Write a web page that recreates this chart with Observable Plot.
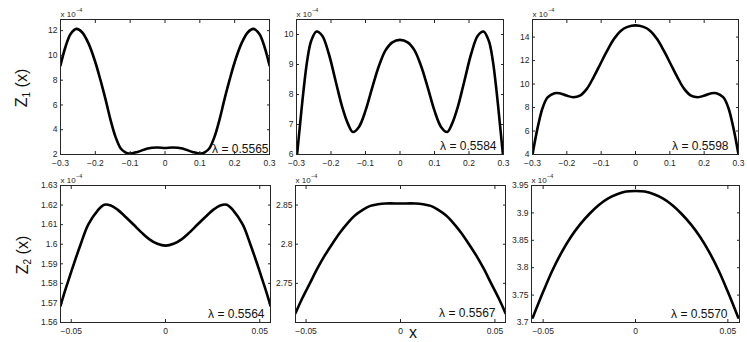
<!DOCTYPE html>
<html><head><meta charset="utf-8">
<script src="https://cdn.jsdelivr.net/npm/d3@7"></script>
<script src="https://cdn.jsdelivr.net/npm/@observablehq/plot@0.6"></script>
<style>
body{margin:0;background:#fff;}
#chart{position:relative;width:747px;height:342px;overflow:hidden;font-family:"Liberation Sans",Arial,sans-serif;color:#111;}
#chart svg{position:absolute;}
.lab{position:absolute;white-space:nowrap;transform:translate(-50%,-50%);}
.ylab{font-size:16px;transform:translate(-50%,-50%) rotate(-90deg);}
.ylab sub{font-size:10px;vertical-align:-3px;}
</style></head><body><div id="chart"></div>
<script>
// ---- data (values in units of 1e-4) ----
const p1X = [-0.3,-0.286,-0.271,-0.254,-0.238,-0.219,-0.2,-0.185,-0.17,-0.156,-0.142,-0.127,-0.115,-0.103,-0.079,-0.05,-0.022,0,0.022,0.05,0.079,0.103,0.115,0.127,0.142,0.156,0.17,0.185,0.2,0.219,0.238,0.254,0.271,0.286,0.3];
const p1Y = [9.2,10.66,11.73,12.14,11.87,10.93,9.45,7.98,6.37,4.76,3.42,2.48,2.2,2.08,2.21,2.48,2.56,2.52,2.56,2.48,2.21,2.08,2.2,2.48,3.42,4.76,6.37,7.98,9.45,10.93,11.87,12.14,11.73,10.66,9.2];

const p2X = [-0.3,-0.2904,-0.2807,-0.269,-0.2573,-0.242,-0.2254,-0.2062,-0.1868,-0.1674,-0.151,-0.1365,-0.119,-0.0997,-0.0803,-0.0611,-0.0417,-0.0222,0,0.0222,0.0417,0.0611,0.0803,0.0997,0.119,0.1365,0.151,0.1674,0.1868,0.2062,0.2254,0.242,0.2573,0.269,0.2807,0.2904,0.3];
const p2Y = [5.8,6.92,8.02,9.13,9.79,10.1,9.96,9.35,8.46,7.58,7.03,6.75,6.92,7.47,8.24,8.95,9.48,9.74,9.82,9.74,9.48,8.95,8.24,7.47,6.92,6.75,7.03,7.58,8.46,9.35,9.96,10.1,9.79,9.13,8.02,6.92,5.8];

const p3X = [-0.3,-0.2847,-0.2699,-0.2553,-0.2358,-0.221,-0.201,-0.1815,-0.1617,-0.1418,-0.1222,-0.1024,-0.0825,-0.0629,-0.0431,-0.0232,0,0.0232,0.0431,0.0629,0.0825,0.1024,0.1222,0.1418,0.1617,0.1815,0.201,0.221,0.2358,0.2553,0.2699,0.2847,0.3];
const p3Y = [4.0,6.33,8.03,8.88,9.22,9.22,9.02,8.88,9.02,9.59,10.58,11.71,12.84,13.83,14.53,14.87,15.0,14.87,14.53,13.83,12.84,11.71,10.58,9.59,9.02,8.88,9.02,9.22,9.22,8.88,8.03,6.33,4.0];

const p4X = [-0.0557,-0.054,-0.052,-0.0486,-0.045,-0.041,-0.036,-0.0325,-0.029,-0.0256,-0.021,-0.0167,-0.0125,-0.0085,-0.0043,0,0.0043,0.0085,0.0125,0.0167,0.021,0.0256,0.029,0.0325,0.036,0.041,0.045,0.0486,0.052,0.054,0.0557];
const p4Y = [1.5685,1.574,1.58,1.59,1.6,1.61,1.6172,1.6202,1.6198,1.6178,1.6138,1.6098,1.6058,1.6025,1.6002,1.5993,1.6002,1.6025,1.6058,1.6098,1.6138,1.6178,1.6198,1.6202,1.6172,1.61,1.6,1.59,1.58,1.574,1.5685];

const p5X = [-0.0556,-0.052,-0.048,-0.044,-0.04,-0.036,-0.032,-0.028,-0.024,-0.02,-0.016,-0.012,-0.008,0,0.008,0.012,0.016,0.02,0.024,0.028,0.032,0.036,0.04,0.044,0.048,0.052,0.0556];
const p5Y = [2.712,2.731,2.75,2.769,2.786,2.801,2.815,2.827,2.837,2.844,2.849,2.851,2.852,2.852,2.852,2.851,2.849,2.844,2.837,2.827,2.815,2.801,2.786,2.769,2.75,2.731,2.712];

const p6X = [-0.0556,-0.05,-0.045,-0.04,-0.035,-0.03,-0.025,-0.02,-0.015,-0.01,-0.005,0,0.005,0.01,0.015,0.02,0.025,0.03,0.035,0.04,0.045,0.05,0.0556];
const p6Y = [3.709,3.756,3.795,3.828,3.856,3.879,3.898,3.914,3.926,3.934,3.939,3.94,3.939,3.934,3.926,3.914,3.898,3.879,3.856,3.828,3.795,3.756,3.709];

const xTicksTop = [-0.3,-0.2,-0.1,0,0.1,0.2,0.3];
const xTicksBottom = [-0.05,0,0.05];
const p1YTicks = [2,4,6,8,10,12];
const p2YTicks = [6,7,8,9,10];
const p3YTicks = [4,6,8,10,12,14];
const p4YTicks = [1.56,1.57,1.58,1.59,1.6,1.61,1.62,1.63];
const p5YTicks = [2.75,2.8,2.85];
const p6YTicks = [3.7,3.75,3.8,3.85,3.9,3.95];
const lambdas = ["λ = 0.5565","λ = 0.5584","λ = 0.5598","λ = 0.5564","λ = 0.5567","λ = 0.5570"];
const scaleNote = "x 10", scaleExp = "−4";

// ---- layout ----
const panels = [
  {x:p1X,y:p1Y,xd:[-0.3,0.3],yd:[2,12.9],xt:xTicksTop,yt:p1YTicks,lab:lambdas[0],f:[60,269,19,154],ld:[-1,-2]},
  {x:p2X,y:p2Y,xd:[-0.3,0.3],yd:[6,10.5],xt:xTicksTop,yt:p2YTicks,lab:lambdas[1],f:[296,503,19,154],ld:[-7,-5]},
  {x:p3X,y:p3Y,xd:[-0.3,0.3],yd:[4,15.5],xt:xTicksTop,yt:p3YTicks,lab:lambdas[2],f:[532,738,19,154],ld:[-10,-5]},
  {x:p4X,y:p4Y,xd:[-0.0557,0.0557],yd:[1.56,1.63],xt:xTicksBottom,yt:p4YTicks,lab:lambdas[3],f:[60,270,185,322],ld:[-6,-5]},
  {x:p5X,y:p5Y,xd:[-0.0556,0.0556],yd:[2.7,2.875],xt:xTicksBottom,yt:p5YTicks,lab:lambdas[4],f:[295,505,185,322],ld:[-10,-6]},
  {x:p6X,y:p6Y,xd:[-0.0563,0.0563],yd:[3.7,3.95],xt:xTicksBottom,yt:p6YTicks,lab:lambdas[5],f:[531,739,185,322],ld:[-12,-5]}
];
const fmt = d => d === 0 ? "0" : String(+d.toFixed(4)).replace("-", "−");
const chart = document.getElementById("chart");
const ML = 45, MR = 12, MT = 20, MB = 20;

for (const p of panels) {
  const [L, R, T, B] = p.f;
  const data = p.x.map((v, i) => ({x: v, y: p.y[i]}));
  const svg = Plot.plot({
    width: ML + (R - L) + MR,
    height: MT + (B - T) + MB,
    marginLeft: ML, marginRight: MR, marginTop: MT, marginBottom: MB,
    x: {domain: p.xd},
    y: {domain: p.yd},
    style: {fontFamily: "'Liberation Sans', Arial, sans-serif", fontSize: "8.5px", color: "#262626", background: "transparent", overflow: "visible"},
    marks: [
      Plot.line(data, {x: "x", y: "y", stroke: "#000", strokeWidth: 2.6, curve: "catmull-rom", clip: true}),
      Plot.frame({stroke: "#262626", strokeWidth: 1}),
      Plot.axisX(p.xt, {anchor: "bottom", tickSize: -3, tickPadding: 8.5, tickFormat: fmt, label: null}),
      Plot.axisX(p.xt, {anchor: "top", tickSize: -3, tickFormat: () => "", label: null}),
      Plot.axisY(p.yt, {anchor: "left", tickSize: -3, tickPadding: 6, tickFormat: fmt, label: null}),
      Plot.axisY(p.yt, {anchor: "right", tickSize: -3, tickFormat: () => "", label: null}),
      Plot.text([p.lab], {text: d => d, frameAnchor: "bottom-right", textAnchor: "end", lineAnchor: "bottom", dx: p.ld[0], dy: p.ld[1], fontSize: 12, fill: "#111"}),
      Plot.text([scaleNote], {text: d => d, frameAnchor: "top-left", textAnchor: "start", lineAnchor: "bottom", dy: -3, fontSize: 8, fill: "#262626"}),
      Plot.text([scaleExp], {text: d => d, frameAnchor: "top-left", textAnchor: "start", lineAnchor: "bottom", dx: 15.5, dy: -7.5, fontSize: 5.5, fill: "#262626"})
    ]
  });
  svg.style.left = (L - ML) + "px";
  svg.style.top = (T - MT) + "px";
  chart.appendChild(svg);
}

function addLabel(html, cls, x, y) {
  const d = document.createElement("div");
  d.className = "lab " + cls;
  d.innerHTML = html;
  d.style.left = x + "px";
  d.style.top = y + "px";
  chart.appendChild(d);
}
addLabel("Z<sub>1</sub> (x)", "ylab", 22, 87.5);
addLabel("Z<sub>2</sub> (x)", "ylab", 23, 255);
const xl = document.createElement("div");
xl.className = "lab"; xl.textContent = "x";
xl.style.cssText = "left:413px;top:333px;font-size:16px;";
chart.appendChild(xl);
</script></body></html>
